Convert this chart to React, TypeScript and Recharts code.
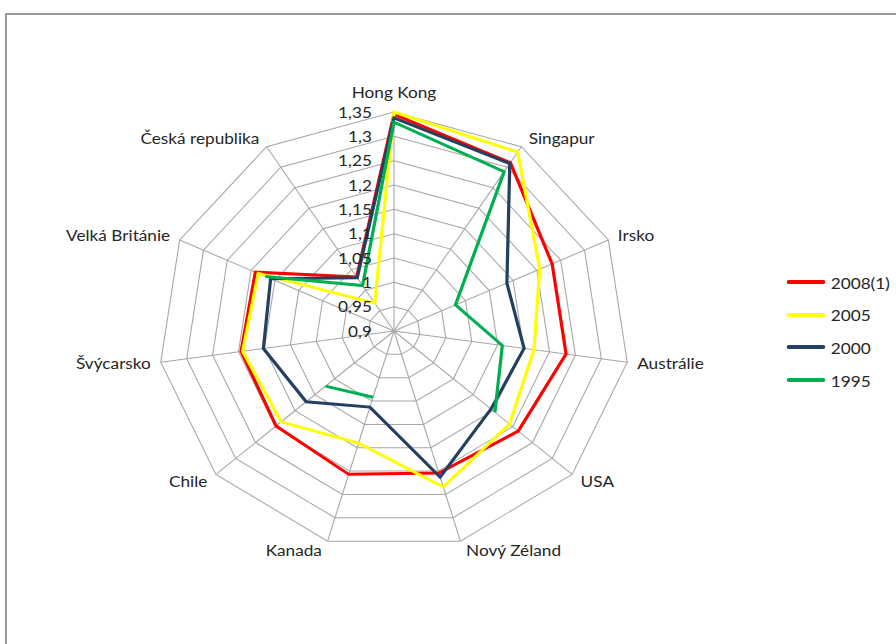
import React from 'react';
import { RadarChart, Radar, PolarGrid, PolarAngleAxis, PolarRadiusAxis, Legend } from 'recharts';

// ---- data ----
const categories = [
  'Hong Kong',
  'Singapur',
  'Irsko',
  'Austrálie',
  'USA',
  'Nový Zéland',
  'Kanada',
  'Chile',
  'Švýcarsko',
  'Velká Británie',
  'Česká republika',
];
const series2008 = [1.345, 1.311, 1.232, 1.232, 1.214, 1.204, 1.207, 1.198, 1.195, 1.191, 1.032];
const series2005 = [1.35, 1.337, 1.206, 1.17, 1.192, 1.234, 1.14, 1.185, 1.192, 1.185, 0.968];
const series2000 = [1.338, 1.309, 1.137, 1.151, 1.145, 1.213, 1.063, 1.122, 1.152, 1.159, 1.03];
const series1995: (number | null)[] = [1.329, 1.289, 1.029, 1.109, 1.155, null, 1.042, 1.073, null, 1.17, 1.011];
const seriesNames = ['2008(1)', '2005', '2000', '1995'];
const seriesColors = ['#FF0000', '#FFFF00', '#243F60', '#00B050'];
const radiusTicks = [0.9, 0.95, 1, 1.05, 1.1, 1.15, 1.2, 1.25, 1.3, 1.35];
const radiusDomain: [number, number] = [0.9, 1.35];

// ---- layout ----
const SX = 1.076; // horizontal stretch of the original picture
const W = 830;
const H = 644;
const CX = 394 / SX;
const CY = 331;
const R = 219;
const FONT = 'Lato, "Liberation Sans", sans-serif';
const FS = 16;

const data = categories.map((name, i) => ({
  name,
  s2008: series2008[i],
  s2005: series2005[i],
  s2000: series2000[i],
  s1995: series1995[i],
}));

const fmt = (v: number) => String(Math.round(v * 100) / 100).replace('.', ',');

// polygon that leaves gaps where a value is missing (like Excel)
const GapShape = (props: any) => {
  const { points, stroke, strokeWidth } = props;
  const pts: any[] = points || [];
  const valid = (p: any) => p && p.value !== null && p.value !== undefined && Number.isFinite(p.x) && Number.isFinite(p.y);
  const hasGap = pts.some((p) => !valid(p));
  let d = '';
  if (!hasGap) {
    d = pts.map((p, i) => `${i === 0 ? 'M' : 'L'}${p.x},${p.y}`).join('') + 'Z';
  } else {
    // start right after the first gap so wrap-around segments stay joined
    const firstGap = pts.findIndex((p) => !valid(p));
    const n = pts.length;
    let cur: any[] = [];
    const segs: any[][] = [];
    for (let k = 1; k <= n; k++) {
      const p = pts[(firstGap + k) % n];
      if (valid(p)) cur.push(p);
      else {
        if (cur.length) segs.push(cur);
        cur = [];
      }
    }
    if (cur.length) segs.push(cur);
    d = segs.map((s) => s.map((p, i) => `${i === 0 ? 'M' : 'L'}${p.x},${p.y}`).join('')).join('');
  }
  return <path d={d} fill="none" stroke={stroke} strokeWidth={strokeWidth} strokeLinejoin="miter" />;
};

const AngleTick = (props: any) => {
  const { payload } = props;
  const a = (payload.coordinate * Math.PI) / 180;
  const c = Math.cos(a);
  const s = Math.sin(a);
  const vx = CX + R * c;
  const vy = CY - R * s;
  let x = vx;
  let y = vy;
  let anchor: 'start' | 'middle' | 'end' = 'middle';
  if (Math.abs(c) < 0.1) {
    y = vy - (s > 0 ? 20 : -20);
  } else {
    anchor = c > 0 ? 'start' : 'end';
    const d = (4 + 6 * Math.abs(c)) / SX;
    x = vx + (c > 0 ? d : -d);
    y = vy - 10 * s;
  }
  return (
    <text x={x} y={y} dy="0.35em" textAnchor={anchor} fontSize={FS} fontFamily={FONT} fill="#262626">
      {payload.value}
    </text>
  );
};

const RadiusTick = (props: any) => {
  const { x, y, payload } = props;
  return (
    <text x={x - 20.5} y={y} dy="0.35em" textAnchor="end" fontSize={FS} fontFamily={FONT} fill="#262626">
      {fmt(payload.value)}
    </text>
  );
};

const LegendContent = () => (
  <div style={{ fontFamily: FONT, fontSize: FS, color: '#262626' }}>
    {seriesNames.map((n, i) => (
      <div key={n} style={{ display: 'flex', alignItems: 'center', height: 32.6 }}>
        <svg width={36} height={6} style={{ display: 'block' }}>
          <line x1={2} y1={3} x2={34} y2={3} stroke={seriesColors[i]} strokeWidth={4} strokeLinecap="round" />
        </svg>
        <span style={{ marginLeft: 5 }}>{n}</span>
      </div>
    ))}
  </div>
);

const keys = ['s2008', 's2005', 's2000', 's1995'];

export default function App() {
  return (
    <div style={{ position: 'fixed', left: 0, top: 0, width: 896, height: 644, overflow: 'hidden', background: '#fff' }}>
      <div
        style={{
          position: 'absolute',
          left: 5,
          top: 13,
          width: 1000,
          height: 800,
          borderTop: '2px solid #9a9a9a',
          borderLeft: '2px solid #9a9a9a',
        }}
      />
      <div style={{ position: 'absolute', left: 0, top: 0, transform: `scaleX(${SX})`, transformOrigin: '0 0' }}>
        <RadarChart
          width={W}
          height={H}
          data={data}
          cx={CX}
          cy={CY}
          outerRadius={R}
          startAngle={90}
          endAngle={-270}
          margin={{ top: 0, right: 0, bottom: 0, left: 0 }}
        >
          <PolarGrid gridType="polygon" stroke="#a6a6a6" strokeWidth={1} />
          <PolarAngleAxis dataKey="name" tick={AngleTick} tickLine={false} axisLine={false} />
          <PolarRadiusAxis
            angle={90}
            domain={radiusDomain}
            ticks={radiusTicks as any}
            tickCount={radiusTicks.length}
            type="number"
            allowDataOverflow
            axisLine={false}
            tickLine={false}
            tick={RadiusTick}
          />
          {keys.map((k, i) => (
            <Radar
              key={k}
              name={seriesNames[i]}
              dataKey={k}
              stroke={seriesColors[i]}
              strokeWidth={3}
              fill="none"
              fillOpacity={0}
              dot={false}
              shape={GapShape}
              isAnimationActive={false}
            />
          ))}
          <Legend
            layout="vertical"
            align="right"
            verticalAlign="middle"
            content={LegendContent}
            wrapperStyle={{ left: 731, top: 266, width: 100 }}
          />
        </RadarChart>
      </div>
    </div>
  );
}
